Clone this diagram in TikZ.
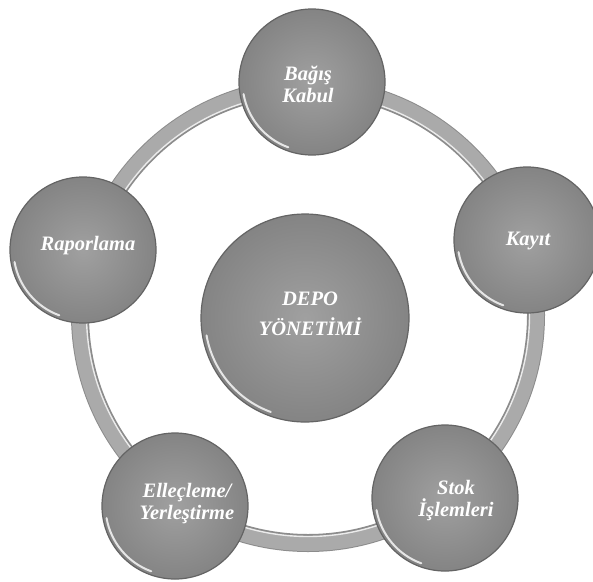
\documentclass[tikz,border=0pt]{standalone}
\usepackage{fontspec}
\setmainfont{Liberation Serif}
\definecolor{bubblein}{RGB}{160,160,160}
\definecolor{bubbleout}{RGB}{132,132,132}
\definecolor{rimgray}{RGB}{100,100,100}
\definecolor{ringedge}{RGB}{140,140,140}
\definecolor{ringmid}{RGB}{170,170,170}
\definecolor{ringlight}{RGB}{235,235,235}
\begin{document}
\begin{tikzpicture}[x=1pt,y=1pt,
  bubble/.style={circle, minimum size=146pt, inner sep=0pt, shade, inner color=bubblein, outer color=bubbleout, draw=rimgray, line width=1.2pt},
  hub/.style={bubble, minimum size=208pt},
  lbl/.style={align=center, text=white, inner sep=0pt, font=\fontsize{20.5}{22}\selectfont\bfseries\itshape},
  hublbl/.style={lbl, font=\fontsize{20.5}{30}\selectfont\bfseries\itshape},
  gloss/.style={white, line width=2pt, line cap=round, opacity=0.8}]
\useasboundingbox (0,0) rectangle (593,-581);
\clip (0,0) rectangle (593,-581);
\fill[white] (0,0) rectangle (593,-581);
% ring centre
\coordinate (ringc) at (308,-315);
\draw[ringedge, line width=18pt] (ringc) circle (228pt);
\draw[ringmid, line width=15pt] (ringc) circle (228.5pt);
\draw[ringlight, line width=1.4pt] (ringc) circle (221.5pt);
% bubbles
\node[bubble] (Bc) at (312,-82) {};
\node[bubble] (Kc) at (527,-240) {};
\node[bubble] (Sc) at (445,-498) {};
\node[bubble] (Ec) at (175,-506) {};
\node[bubble] (Rc) at (83,-250) {};
\node[hub] (Dc) at (305,-318) {};
% gloss highlights
\foreach \n in {Bc,Kc,Sc,Ec,Rc}{
  \draw[gloss] (\n) ++(190:69.5pt) arc[start angle=190, end angle=250, radius=69.5pt];
}
\draw[gloss] (Dc) ++(190:100pt) arc[start angle=190, end angle=250, radius=100pt];
% labels
\node[lbl] (B) at (308,-84) {Bağış\\Kabul};
\node[lbl] (K) at (528,-241) {Kayıt};
\node[lbl] (S) at (456,-501) {Stok\\İşlemleri};
\node[lbl] (E) at (187,-504) {Elleçleme/\\Yerleştirme};
\node[lbl] (R) at (88,-246) {Raporlama};
\node[hublbl] (D) at (310,-314) {DEPO\\YÖNETİMİ};
\end{tikzpicture}
\end{document}
